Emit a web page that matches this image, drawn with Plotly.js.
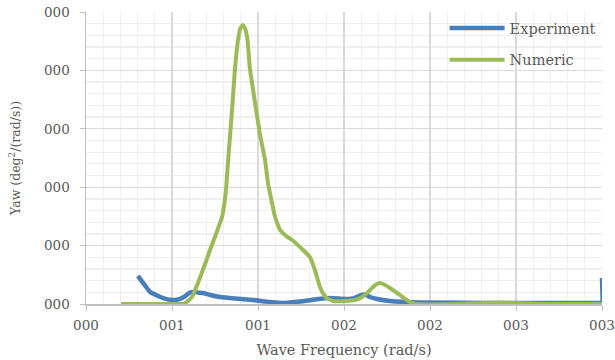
<!DOCTYPE html>
<html>
<head>
<meta charset="utf-8">
<script src="https://cdn.plot.ly/plotly-3.0.1.min.js"></script>
<style>html,body{margin:0;padding:0;background:#fff}#chart{width:615px;height:360px}</style>
</head>
<body>
<div id="chart"></div>
<script>
// Experiment (blue) series
const expX = [0.302,0.337,0.372,0.407,0.448,0.506,0.547,0.576,0.599,0.622,0.651,0.680,0.721,0.779,0.866,0.971,1.070,1.157,1.244,1.331,1.419,1.506,1.552,1.593,1.622,1.651,1.692,1.767,1.942,2.407,2.988,3.0,3.0];
const expY = [0.0240,0.0171,0.0103,0.0077,0.0051,0.0034,0.0043,0.0068,0.0094,0.0103,0.0098,0.0094,0.0077,0.0060,0.0047,0.0034,0.0017,0.0009,0.0021,0.0039,0.0051,0.0043,0.0047,0.0073,0.0081,0.0060,0.0043,0.0026,0.0013,0.0009,0.0009,0.0009,0.0223];
// Numeric (green) series
const numX = [0.2035,0.547,0.570,0.593,0.616,0.651,0.686,0.721,0.756,0.791,0.812,0.831,0.849,0.866,0.884,0.898,0.911,0.924,0.939,0.953,0.983,1.012,1.041,1.058,1.099,1.128,1.163,1.198,1.262,1.302,1.331,1.360,1.384,1.401,1.436,1.506,1.564,1.605,1.634,1.663,1.686,1.709,1.733,1.767,1.826,1.855,1.884,1.919,2.174,2.395,2.640,3.0];
const numY = [0,0,0.0004,0.0026,0.0060,0.0180,0.0317,0.0462,0.0599,0.0745,0.0950,0.1318,0.1661,0.2012,0.2260,0.2363,0.2389,0.2363,0.2260,0.2012,0.1721,0.1447,0.1233,0.1036,0.0745,0.0634,0.0582,0.0548,0.0462,0.0402,0.0291,0.0146,0.0077,0.0051,0.0026,0.0026,0.0034,0.0060,0.0094,0.0137,0.0167,0.0180,0.0167,0.0137,0.0077,0.0043,0.0017,0,0,0.0013,0,0];

const xTitle = "Wave Frequency (rad/s)";
const yTitle = "Yaw (deg<sup>2</sup>/(rad/s))";
const names = ["Experiment","Numeric"];

const fontFam = "DejaVu Serif, Liberation Serif, serif";
const tickFont = {family: fontFam, size: 13.5, color: "#595959"};
const traces = [
  {x: expX, y: expY, name: names[0], mode: "lines", legendgroup: "a",
   line: {color: "#4a7ebb", width: 4.5, shape: "spline", smoothing: 0.4}},
  {x: numX, y: numY, name: names[1], mode: "lines", legendgroup: "b",
   line: {color: "#9bbb59", width: 4, shape: "spline", smoothing: 0.3}}
];
const layout = {
  width: 615, height: 360,
  margin: {l: 86, r: 13, t: 12, b: 56},
  paper_bgcolor: "#fff", plot_bgcolor: "#fff",
  font: {family: fontFam, size: 14, color: "#595959"},
  showlegend: true,
  legend: {x: 0.695, y: 1.0, xanchor: "left", yanchor: "top", bgcolor: "rgba(0,0,0,0)",
           itemwidth: 55, traceorder: "grouped", tracegroupgap: 10,
           font: {family: fontFam, size: 14.5, color: "#595959"}},
  xaxis: {range: [0, 3], dtick: 0.5, tick0: 0, tickformat: "03.0f", tickfont: tickFont,
          ticklabeloverflow: "allow",
          showline: true, linecolor: "#bfbfbf", linewidth: 1.5,
          ticks: "outside", ticklen: 5, tickcolor: "#bfbfbf", ticklabelstandoff: 3,
          showgrid: true, gridcolor: "#d9d9d9", gridwidth: 1.3, zeroline: false,
          minor: {dtick: 0.1, showgrid: true, gridcolor: "#efefef", gridwidth: 1.3},
          title: {text: xTitle, standoff: 13, font: {family: fontFam, size: 14.5, color: "#595959"}}},
  yaxis: {range: [0, 0.25], dtick: 0.05, tick0: 0, tickformat: "03.0f", tickfont: tickFont,
          ticklabeloverflow: "allow",
          showline: true, linecolor: "#bfbfbf", linewidth: 1.5,
          ticks: "outside", ticklen: 5, tickcolor: "#bfbfbf", ticklabelstandoff: 7,
          showgrid: true, gridcolor: "#d9d9d9", gridwidth: 1.3, zeroline: false,
          minor: {dtick: 0.01, showgrid: true, gridcolor: "#efefef", gridwidth: 1.3},
          title: {text: yTitle, standoff: 20, font: {family: fontFam, size: 12.5, color: "#595959"}}}
};
Plotly.newPlot("chart", traces, layout, {displayModeBar: false, staticPlot: true});
</script>
</body>
</html>
